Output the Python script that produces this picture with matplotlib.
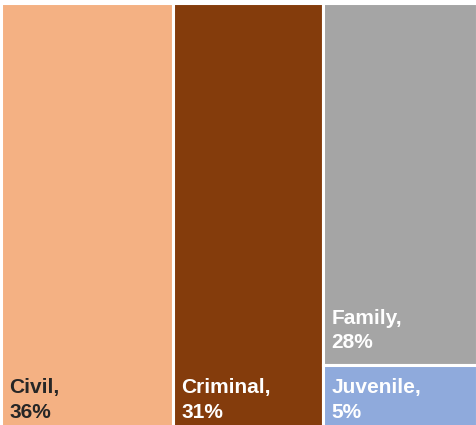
import matplotlib.pyplot as plt
from matplotlib.patches import Rectangle

categories = ['Civil', 'Criminal', 'Family', 'Juvenile']
shares = [36.1, 31.6, 27.6, 4.7]
pct_labels = ['36%', '31%', '28%', '5%']
colors = ['#F4B183', '#843C0C', '#A5A5A5', '#8FAADC']
text_colors = ['#262626', 'white', 'white', 'white']
# columns of the treemap: indices of the categories stacked in each column
columns = [[0], [1], [2, 3]]
# bottom padding of each label, in points
label_pad = [3.5, 3.5, 9, 3.5]

fig = plt.figure(figsize=(4.76, 4.25), dpi=100)
ax = fig.add_axes([1.0 / 476, -1.5 / 425, 1.0, 1 - 1.5 / 425])
total = sum(shares)
ax.set_xlim(0, total)
ax.set_ylim(0, 1)
ax.axis('off')

x0 = 0
for col in columns:
    col_sum = sum(shares[i] for i in col)
    y_top = 1.0
    for i in col:
        h = shares[i] / col_sum
        y0 = y_top - h
        ax.add_patch(Rectangle((x0, y0), col_sum, h, facecolor=colors[i],
                               edgecolor='white', linewidth=2.2, clip_on=False))
        ax.annotate(categories[i] + ',\n' + pct_labels[i], xy=(x0, y0),
                    xytext=(6, label_pad[i]), textcoords='offset points',
                    ha='left', va='bottom', fontsize=15, fontweight='bold',
                    family='Liberation Sans', color=text_colors[i],
                    linespacing=1.35)
        y_top = y0
    x0 += col_sum

fig.savefig('out.png', dpi=100)
